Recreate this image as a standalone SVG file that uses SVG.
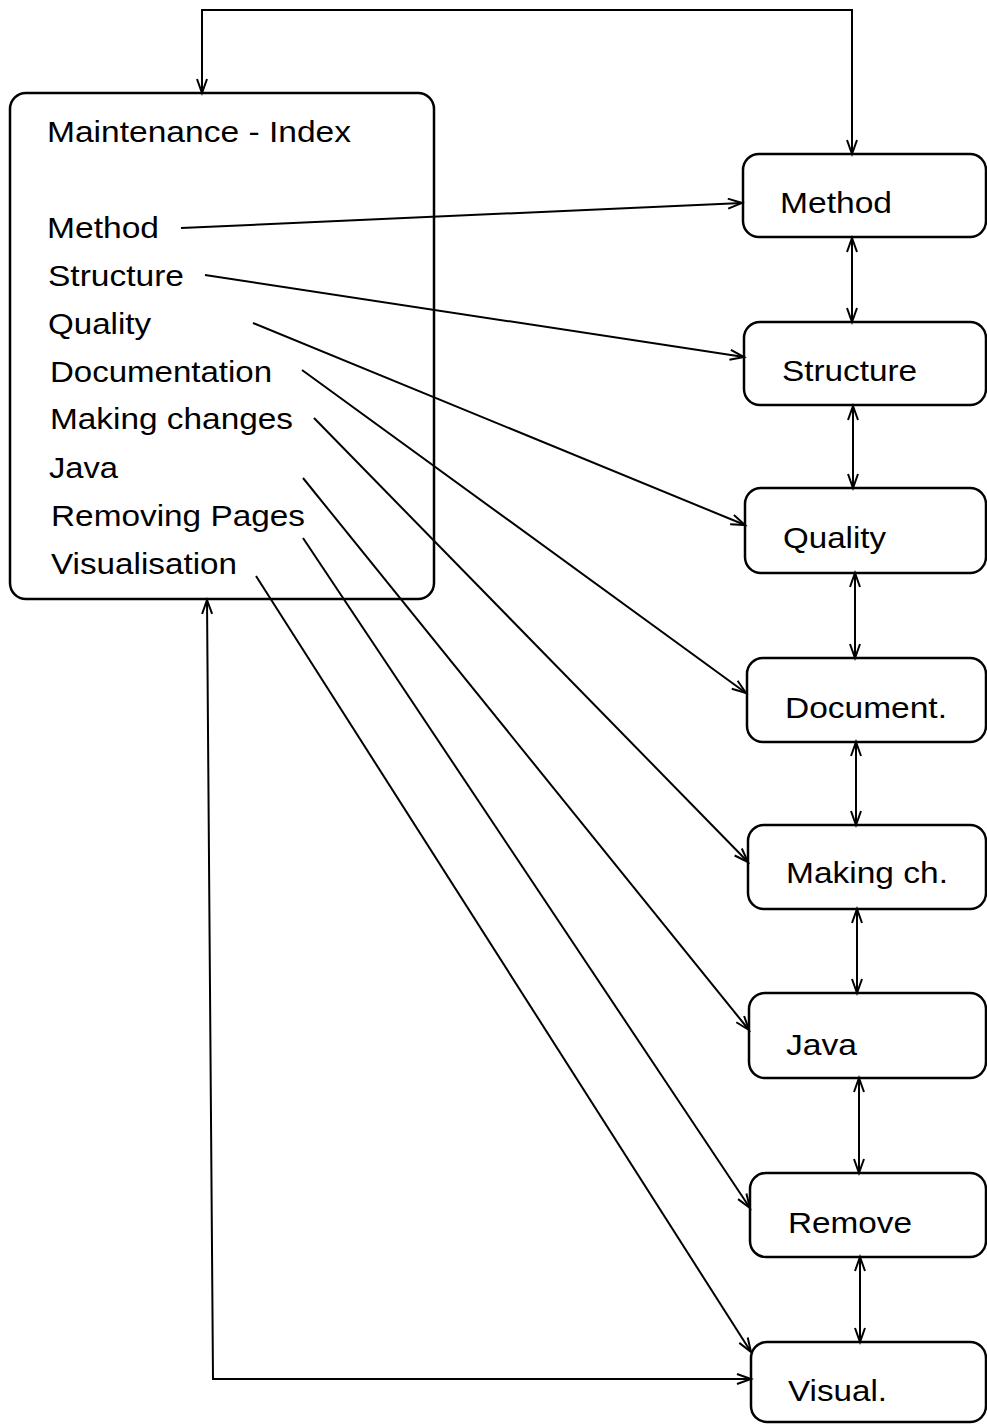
<svg xmlns="http://www.w3.org/2000/svg" width="987" height="1424" viewBox="0 0 987 1424">
<style>
.box{fill:none;stroke:#000;stroke-width:2.5}
.t{font-family:"Liberation Sans",Arial,sans-serif;font-size:30px;fill:#000}
.c{fill:none;stroke:#000;stroke-width:2}
</style>
<defs>
<marker id="a" markerUnits="userSpaceOnUse" markerWidth="20" markerHeight="16" refX="15" refY="6" orient="auto-start-reverse" viewBox="0 0 20 16">
<path d="M1,1 L15,6 L1,11" fill="none" stroke="#000" stroke-width="2"/>
</marker>
</defs>
<rect width="987" height="1424" fill="#fff"/>
<g id="connectors">
<path class="c" d="M852,154 L852,10 L202,10 L202,93" marker-start="url(#a)" marker-end="url(#a)"/>
<path class="c" d="M751,1379 L213,1379 L207,600" marker-start="url(#a)" marker-end="url(#a)"/>
<path class="c" d="M181,228 L742,203" marker-end="url(#a)"/>
<path class="c" d="M205,275 L744,357" marker-end="url(#a)"/>
<path class="c" d="M253,323 L745,525" marker-end="url(#a)"/>
<path class="c" d="M302,370 L746,693" marker-end="url(#a)"/>
<path class="c" d="M314,418 L748,862" marker-end="url(#a)"/>
<path class="c" d="M303,478 L749,1030" marker-end="url(#a)"/>
<path class="c" d="M303,538 L750,1208" marker-end="url(#a)"/>
<path class="c" d="M256,576 L751,1352" marker-end="url(#a)"/>
<path class="c" d="M852,238 L852,322" marker-start="url(#a)" marker-end="url(#a)"/>
<path class="c" d="M853,406 L853,488" marker-start="url(#a)" marker-end="url(#a)"/>
<path class="c" d="M855,573 L855,658" marker-start="url(#a)" marker-end="url(#a)"/>
<path class="c" d="M856,742 L856,825" marker-start="url(#a)" marker-end="url(#a)"/>
<path class="c" d="M857,909 L857,993" marker-start="url(#a)" marker-end="url(#a)"/>
<path class="c" d="M859,1078 L859,1173" marker-start="url(#a)" marker-end="url(#a)"/>
<path class="c" d="M860,1257 L860,1342" marker-start="url(#a)" marker-end="url(#a)"/>
</g>
<g id="index">
<rect class="box" x="10" y="93" width="424" height="506" rx="16"/>
<text class="t" x="47" y="142" textLength="304" lengthAdjust="spacingAndGlyphs">Maintenance - Index</text>
<text class="t" x="47" y="238" textLength="112" lengthAdjust="spacingAndGlyphs">Method</text>
<text class="t" x="48" y="286" textLength="136" lengthAdjust="spacingAndGlyphs">Structure</text>
<text class="t" x="48" y="334" textLength="103" lengthAdjust="spacingAndGlyphs">Quality</text>
<text class="t" x="50" y="382" textLength="222" lengthAdjust="spacingAndGlyphs">Documentation</text>
<text class="t" x="50" y="429" textLength="243" lengthAdjust="spacingAndGlyphs">Making changes</text>
<text class="t" x="49" y="478" textLength="69" lengthAdjust="spacingAndGlyphs">Java</text>
<text class="t" x="51" y="526" textLength="254" lengthAdjust="spacingAndGlyphs">Removing Pages</text>
<text class="t" x="51" y="574" textLength="186" lengthAdjust="spacingAndGlyphs">Visualisation</text>
</g>
<g id="method"><rect class="box" x="743" y="154" width="243" height="83" rx="16"/><text class="t" x="780" y="213" textLength="112" lengthAdjust="spacingAndGlyphs">Method</text></g>
<g id="structure"><rect class="box" x="744" y="322" width="242" height="83" rx="16"/><text class="t" x="782" y="381" textLength="135" lengthAdjust="spacingAndGlyphs">Structure</text></g>
<g id="quality"><rect class="box" x="745" y="488" width="241" height="85" rx="16"/><text class="t" x="783" y="548" textLength="103" lengthAdjust="spacingAndGlyphs">Quality</text></g>
<g id="document"><rect class="box" x="747" y="658" width="239" height="84" rx="16"/><text class="t" x="785" y="718" textLength="162" lengthAdjust="spacingAndGlyphs">Document.</text></g>
<g id="making"><rect class="box" x="748" y="825" width="238" height="84" rx="16"/><text class="t" x="786" y="883" textLength="162" lengthAdjust="spacingAndGlyphs">Making ch.</text></g>
<g id="java"><rect class="box" x="749" y="993" width="237" height="85" rx="16"/><text class="t" x="786" y="1055" textLength="71" lengthAdjust="spacingAndGlyphs">Java</text></g>
<g id="remove"><rect class="box" x="750" y="1173" width="236" height="84" rx="16"/><text class="t" x="788" y="1233" textLength="124" lengthAdjust="spacingAndGlyphs">Remove</text></g>
<g id="visual"><rect class="box" x="751" y="1342" width="235" height="80" rx="16"/><text class="t" x="788" y="1401" textLength="99" lengthAdjust="spacingAndGlyphs">Visual.</text></g>
</svg>
